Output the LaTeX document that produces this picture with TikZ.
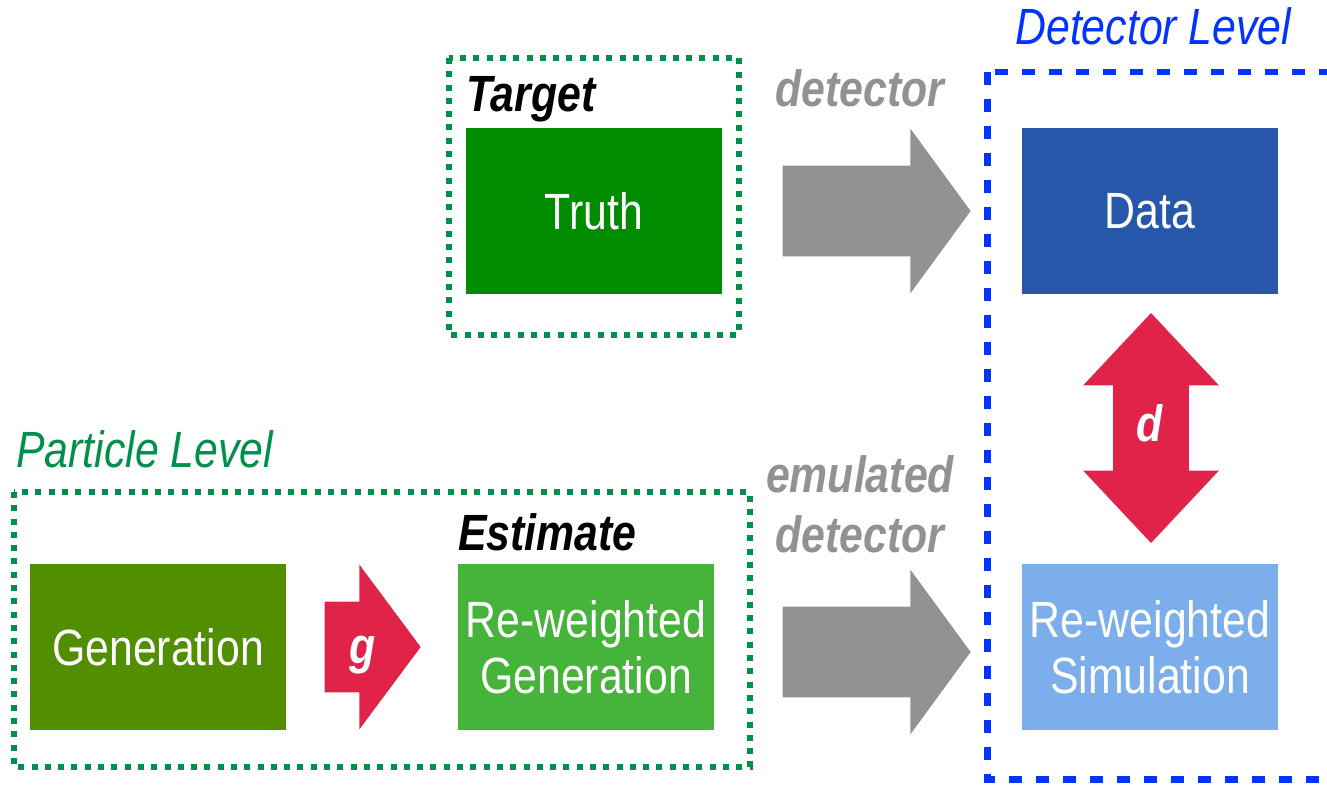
\documentclass[tikz,border=0pt]{standalone}
\usepackage{fontspec}
\setmainfont[FakeStretch=0.84]{Liberation Sans}
\usetikzlibrary{shapes.arrows}
\definecolor{truthgreen}{RGB}{0,140,0}
\definecolor{gengreen}{RGB}{82,143,0}
\definecolor{rwgreen}{RGB}{70,179,59}
\definecolor{datablue}{RGB}{39,87,171}
\definecolor{simblue}{RGB}{123,174,235}
\definecolor{framegreen}{RGB}{0,144,76}
\definecolor{frameblue}{RGB}{3,51,255}
\definecolor{arrowgray}{RGB}{146,146,146}
\definecolor{arrowred}{RGB}{225,35,74}
\tikzstyle{box} = [rectangle, minimum width=5.12cm, minimum height=3.32cm, inner sep=0pt, text centered, align=center, text=white, font=\fontsize{29}{32}\selectfont]
\tikzstyle{lvl} = [inner sep=0pt, font=\fontsize{29}{34}\selectfont\itshape]
\tikzstyle{tag} = [inner sep=0pt, font=\fontsize{29}{34}\selectfont\bfseries\itshape]
\tikzstyle{dotbox} = [draw=framegreen, line width=0.12cm, dash pattern=on 0.12cm off 0.146cm]
\tikzstyle{dashbox} = [draw=frameblue, line width=0.14cm, dash pattern=on 0.26cm off 0.28cm]
\tikzstyle{fatarrow} = [single arrow, fill=arrowgray, inner sep=0pt, text height=1.8cm, text depth=0cm, single arrow head extend=0.74cm, single arrow tip angle=107.6, minimum height=3.76cm, anchor=tail]

\begin{document}
\begin{tikzpicture}[x=0.02cm, y=-0.02cm]
        \useasboundingbox (0,0) rectangle (1327,784);
        % frames
        \draw [dotbox] (449,58) rectangle (739,335);
        \draw [dotbox] (14,492) rectangle (750,767);
        \draw [dashbox] (987,72) rectangle (1330,779);
        % boxes
        \node (truth) [box, fill=truthgreen] at (594,211) {Truth};
        \node (data) [box, fill=datablue] at (1150,211) {Data};
        \node (gen) [box, fill=gengreen] at (158,647) {Generation};
        \node (rwgen) [box, fill=rwgreen] at (586,647) {Re-weighted\\Generation};
        \node (rwsim) [box, fill=simblue] at (1150,647) {Re-weighted\\Simulation};
        % labels
        \node (target) [tag, anchor=base west] at (466,112) {Target};
        \node (estimate) [tag, anchor=base west] at (458,550) {Estimate};
        \node (plvl) [lvl, text=framegreen, anchor=base west] at (16,467) {Particle Level};
        \node (dlvl) [lvl, text=frameblue, anchor=base west] at (1015,45) {Detector Level};
        \node (det) [tag, text=arrowgray, anchor=base] at (860,107) {detector};
        \node (emul) [tag, text=arrowgray, align=center] at (860,504) {emulated\\detector};
        % block arrows
        \node (detarr) [fatarrow] at ([xshift=1.2cm]truth.east) {};
        \node (emularr) [fatarrow] at ([xshift=1.36cm, yshift=-0.1cm]rwgen.east) {};
        \node (garr) [fatarrow, fill=arrowred, minimum height=1.92cm, single arrow tip angle=106.7] at ([xshift=0.76cm]gen.east) {};
        \node (glbl) [tag, text=white, anchor=base] at (363,663) {g};
        \node (darr) [double arrow, rotate=90, fill=arrowred, inner sep=0pt, text height=1.5cm, text depth=0cm, double arrow head extend=0.6cm, double arrow tip angle=86.3, minimum height=4.6cm] at (1151,428) {};
        \node (dlbl) [tag, text=white] at (1150,423) {d};
\end{tikzpicture}
\end{document}
